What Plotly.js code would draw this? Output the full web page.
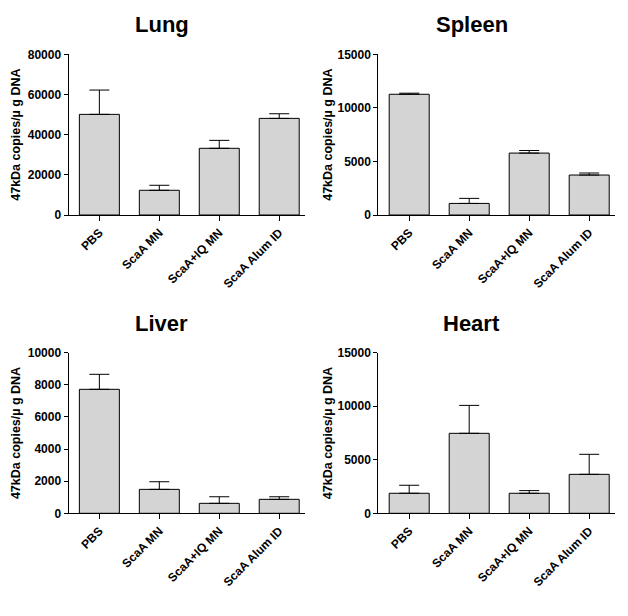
<!DOCTYPE html>
<html>
<head>
<meta charset="utf-8">
<script src="https://cdn.plot.ly/plotly-3.0.1.min.js"></script>
<style>html,body{margin:0;padding:0;background:#fff;}#chart{width:628px;height:616px;}</style>
</head>
<body>
<div id="chart"></div>
<script>
// Data
const categories = ['PBS', 'ScaA MN', 'ScaA+IQ MN', 'ScaA Alum ID'];
const panelTitles = ['Lung', 'Spleen', 'Liver', 'Heart'];
const yAxisLabel = '47kDa copies/µ g DNA';

const lungMean = [50100, 12300, 33200, 48100];
const lungErr = [12100, 2500, 3950, 2300];
const spleenMean = [11270, 1080, 5780, 3730];
const spleenErr = [100, 470, 240, 190];
const liverMean = [7720, 1490, 620, 870];
const liverErr = [935, 475, 410, 160];
const heartMean = [1870, 7470, 1870, 3640];
const heartErr = [750, 2610, 250, 1870];

const yMax = [80000, 15000, 10000, 15000];
const yStep = [20000, 5000, 2000, 5000];

const means = [lungMean, spleenMean, liverMean, heartMean];
const errs = [lungErr, spleenErr, liverErr, heartErr];

const W = 628, H = 616;
const FONT = 'Arial, "Liberation Sans", sans-serif';
const xDomains = [[68.5 / W, 305 / W], [378.3 / W, 615 / W]];
const yDomains = [[(H - 215) / H, (H - 54.3) / H], [(H - 513.3) / H, (H - 352.7) / H]];

const traces = [];
const layout = {
  width: W, height: H,
  margin: {l: 0, r: 0, t: 0, b: 0},
  paper_bgcolor: '#ffffff',
  plot_bgcolor: 'rgba(0,0,0,0)',
  showlegend: false,
  font: {family: FONT, color: '#000'},
  annotations: []
};

for (let i = 0; i < 4; i++) {
  const n = i + 1;
  const xa = n === 1 ? 'x' : 'x' + n;
  const ya = n === 1 ? 'y' : 'y' + n;
  traces.push({
    type: 'bar',
    x: categories,
    y: means[i],
    xaxis: xa, yaxis: ya,
    width: 0.667,
    marker: {color: '#d4d4d4', line: {color: '#000', width: 1}},
    error_y: {type: 'data', array: errs[i], arrayminus: categories.map(() => 0), symmetric: false,
              color: '#000', thickness: 1, width: 10},
    hoverinfo: 'none'
  });
  const col = i % 2, row = Math.floor(i / 2);
  layout['xaxis' + (n === 1 ? '' : n)] = {
    domain: xDomains[col], anchor: ya,
    type: 'category', range: [-0.515, 3.43],
    showline: true, linecolor: '#000', linewidth: 1,
    ticks: 'outside', ticklen: 5, tickwidth: 1, tickcolor: '#000',
    tickangle: -45, showgrid: false, zeroline: false,
    tickfont: {family: FONT, size: 12, color: '#000', weight: 'bold'}
  };
  layout['yaxis' + (n === 1 ? '' : n)] = {
    domain: yDomains[row], anchor: xa,
    range: [0, yMax[i]], dtick: yStep[i], tick0: 0,
    showline: true, linecolor: '#000', linewidth: 1,
    ticks: 'outside', ticklen: 4, tickwidth: 1, tickcolor: '#000',
    showgrid: false, zeroline: false, tickformat: 'd',
    tickfont: {family: FONT, size: 12, color: '#000', weight: 'bold'},
    title: {text: yAxisLabel, font: {family: FONT, size: 12.5, color: '#000', weight: 'bold'},
            standoff: col === 0 ? 4 : 2}
  };
  const titleX = [161.5, 471.5][col] / W;
  const titleY = [(H - 24.5) / H, (H - 323) / H][row];
  layout.annotations.push({
    text: '<b>' + panelTitles[i] + '</b>', xref: 'paper', yref: 'paper',
    x: titleX, y: titleY, xanchor: 'center', yanchor: 'middle', showarrow: false,
    font: {family: FONT, size: 22, color: '#000'}
  });
}

Plotly.newPlot('chart', traces, layout, {staticPlot: true});
</script>
</body>
</html>
